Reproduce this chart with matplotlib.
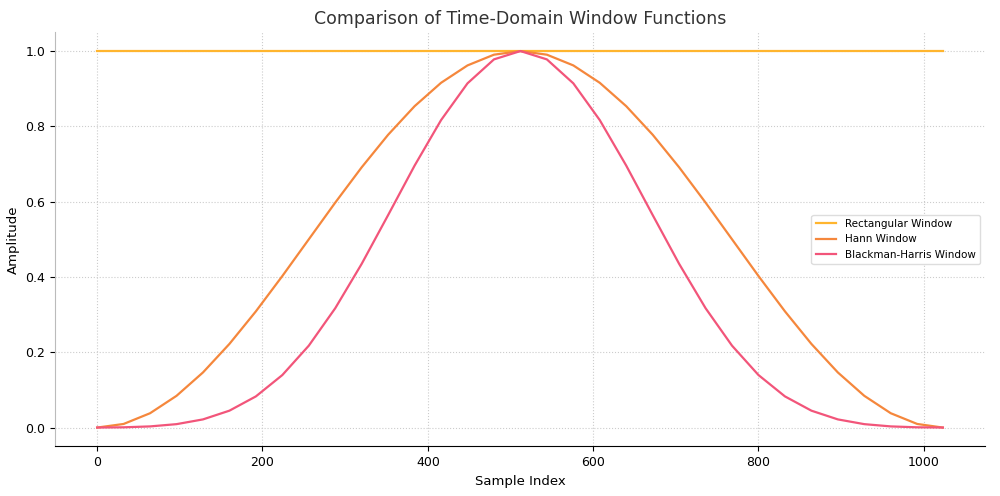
import matplotlib
matplotlib.use("Agg")
import matplotlib.pyplot as plt

sample_index = [0, 32, 64, 96, 128, 160, 192, 224, 256, 288, 320, 352, 384, 416, 448, 480, 512,
                544, 576, 608, 640, 672, 704, 736, 768, 800, 832, 864, 896, 928, 960, 992, 1023]
half_hann = [0.0, 0.0096, 0.0381, 0.0843, 0.1464, 0.2222, 0.3087, 0.4025, 0.5, 0.5975,
             0.6913, 0.7778, 0.8536, 0.9157, 0.9619, 0.9904, 1.0]
half_bh = [0.0001, 0.0007, 0.0031, 0.0091, 0.0217, 0.0449, 0.0828, 0.1395, 0.2175, 0.3170,
           0.4349, 0.5645, 0.6958, 0.8166, 0.9143, 0.9779, 1.0]
hann = half_hann + half_hann[-2::-1]
blackman_harris = half_bh + half_bh[-2::-1]
rectangular = [1.0] * len(sample_index)

fig, ax = plt.subplots(figsize=(10, 4.96), dpi=100)
ax.plot(sample_index, rectangular, color="#FFB52E", lw=1.6, label="Rectangular Window")
ax.plot(sample_index, hann, color="#F5873C", lw=1.6, label="Hann Window")
ax.plot(sample_index, blackman_harris, color="#F2557A", lw=1.6, label="Blackman-Harris Window")
ax.set_title("Comparison of Time-Domain Window Functions", fontsize=12.5, color="#333333")
ax.set_xlabel("Sample Index", fontsize=9.5)
ax.set_ylabel("Amplitude", fontsize=9.5)
ax.set_xlim(-51, 1074)
ax.set_ylim(-0.05, 1.05)
ax.set_xticks([0, 200, 400, 600, 800, 1000])
ax.set_yticks([0.0, 0.2, 0.4, 0.6, 0.8, 1.0])
ax.tick_params(labelsize=9)
ax.grid(True, linestyle=":", color="#cccccc", linewidth=0.8)
for s in ["top", "right"]:
    ax.spines[s].set_visible(False)
ax.spines["left"].set_color("#bbbbbb")
ax.legend(loc="center right", fontsize=7.5, framealpha=1, edgecolor="#dddddd")
fig.subplots_adjust(left=0.055, right=0.985, top=0.935, bottom=0.1)
fig.savefig("out.png")
